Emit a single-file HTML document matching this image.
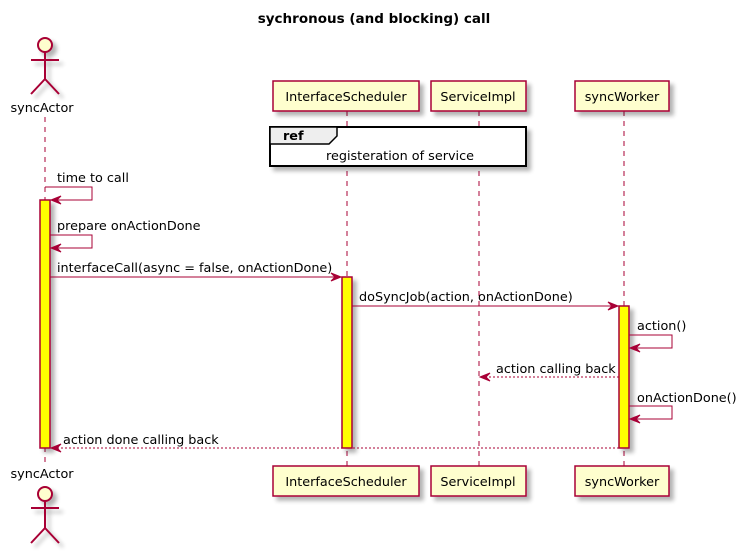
<!DOCTYPE html>
<html><head><meta charset="utf-8"><style>body{margin:0;background:#fff}svg{display:block}text{font-family:"DejaVu Sans","Liberation Sans",sans-serif;font-size:12.8px;fill:#000}</style></head><body>
<svg width="748" height="553" viewBox="0 0 748 553" xmlns="http://www.w3.org/2000/svg">
<defs>
<filter id="sh" x="-20%" y="-20%" width="150%" height="150%"><feGaussianBlur in="SourceAlpha" stdDeviation="2"/><feOffset dx="4" dy="4"/><feComponentTransfer><feFuncA type="linear" slope="0.3"/></feComponentTransfer><feMerge><feMergeNode/><feMergeNode in="SourceGraphic"/></feMerge></filter>
</defs>
<text x="374" y="23" text-anchor="middle" style="font-weight:bold;font-size:13.5px">sychronous (and blocking) call</text>
<g stroke="#A80036" stroke-width="1" stroke-dasharray="5,5">
<line x1="45" y1="117" x2="45" y2="462"/>
<line x1="347" y1="111" x2="347" y2="466"/>
<line x1="479" y1="111" x2="479" y2="466"/>
<line x1="624" y1="111" x2="624" y2="466"/>
</g>
<g stroke="#A80036" stroke-width="2" fill="none" filter="url(#sh)">
<circle cx="45" cy="45" r="7" fill="#FEFECE"/>
<path d="M45 52 V79 M31 60 H59 M45 79 L31 94 M45 79 L59 94"/>
<circle cx="45" cy="494" r="7" fill="#FEFECE"/>
<path d="M45 501 V528 M31 508 H59 M45 528 L31 543 M45 528 L59 543"/>
</g>
<text x="42" y="112" text-anchor="middle">syncActor</text>
<text x="42" y="478" text-anchor="middle">syncActor</text>
<g stroke="#A80036" stroke-width="1.5" fill="#FEFECE" filter="url(#sh)">
<rect x="273" y="81" width="146" height="30"/>
<rect x="431" y="81" width="95" height="30"/>
<rect x="575" y="81" width="94" height="30"/>
<rect x="273" y="466" width="146" height="30"/>
<rect x="431" y="466" width="95" height="30"/>
<rect x="575" y="466" width="94" height="30"/>
</g>
<g text-anchor="middle">
<text x="346" y="101">InterfaceScheduler</text>
<text x="478" y="101">ServiceImpl</text>
<text x="622" y="101">syncWorker</text>
<text x="346" y="486">InterfaceScheduler</text>
<text x="478" y="486">ServiceImpl</text>
<text x="622" y="486">syncWorker</text>
</g>
<rect x="270" y="127" width="256" height="39" fill="#fff" stroke="#000" stroke-width="2" filter="url(#sh)"/>
<path d="M270 127 H337 V136 L329 144 H270 Z" fill="#EEEEEE" stroke="#000" stroke-width="1.5"/>
<text x="283" y="140" style="font-weight:bold">ref</text>
<text x="400" y="160" text-anchor="middle">registeration of service</text>
<g fill="#FFFF00" stroke="#A80036" stroke-width="1.5" filter="url(#sh)">
<rect x="40" y="200" width="10" height="248"/>
<rect x="342" y="277" width="10" height="171"/>
<rect x="619" y="306" width="10" height="142"/>
</g>
<g stroke="#A80036" stroke-width="1" fill="none">
<path d="M45 187 H92 V200 H50"/>
<path d="M50 235 H92 V248 H50"/>
<path d="M50 277 H341"/>
<path d="M352 306 H618"/>
<path d="M629 335 H672 V348 H629"/>
<path d="M619 377 H480" stroke-dasharray="2,2"/>
<path d="M629 406 H672 V419 H629"/>
<path d="M619 448 H51" stroke-dasharray="2,2"/>
</g>
<g fill="#A80036" stroke="#A80036" stroke-width="1">
<path d="M51 200 L61 196 L57 200 L61 204 Z"/>
<path d="M51 248 L61 244 L57 248 L61 252 Z"/>
<path d="M341 277 L331 273 L335 277 L331 281 Z"/>
<path d="M618 306 L608 302 L612 306 L608 310 Z"/>
<path d="M630 348 L640 344 L636 348 L640 352 Z"/>
<path d="M480 377 L490 373 L486 377 L490 381 Z"/>
<path d="M630 419 L640 415 L636 419 L640 423 Z"/>
<path d="M51 448 L61 444 L57 448 L61 452 Z"/>
</g>
<text x="57" y="182">time to call</text>
<text x="57" y="230">prepare onActionDone</text>
<text x="57" y="272">interfaceCall(async = false, onActionDone)</text>
<text x="359" y="301">doSyncJob(action, onActionDone)</text>
<text x="637" y="330">action()</text>
<text x="496" y="373">action calling back</text>
<text x="637" y="402">onActionDone()</text>
<text x="63" y="444">action done calling back</text>
</svg>
</body></html>
